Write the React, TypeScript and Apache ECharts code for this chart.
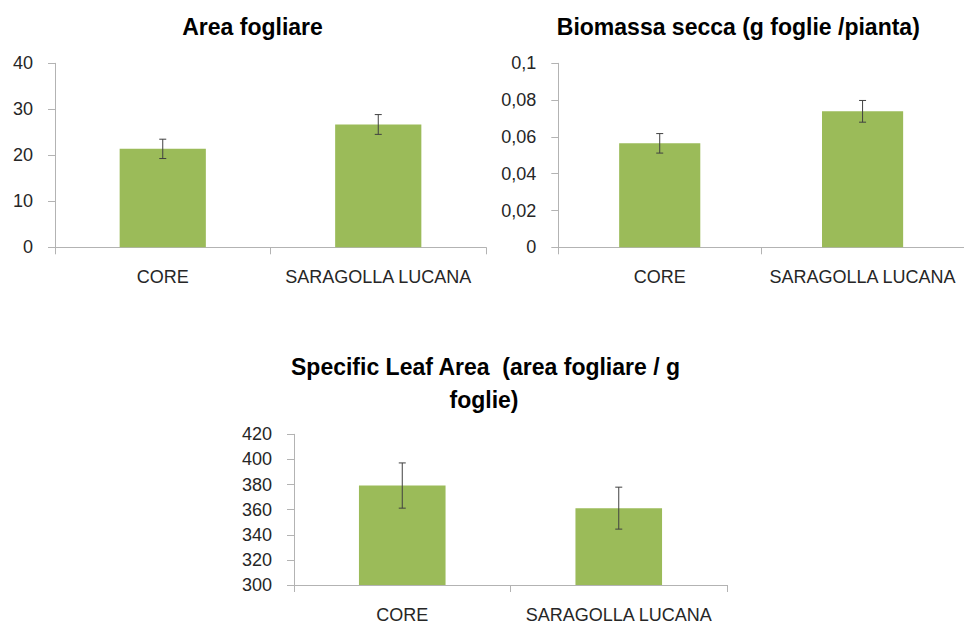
import React, { useEffect, useRef } from "react";
import * as echarts from "echarts";

const categories = ["CORE", "SARAGOLLA LUCANA"];

const areaValues = [21.4, 26.7];
const areaErrors = [2.1, 2.15];
const areaAxis = { min: 0, max: 40, interval: 10 };

const biomassValues = [0.0565, 0.0739];
const biomassErrors = [0.0053, 0.0059];
const biomassAxis = { min: 0, max: 0.1, interval: 0.02 };

const slaValues = [379.2, 361.2];
const slaErrors = [18, 16.7];
const slaAxis = { min: 300, max: 420, interval: 20 };

const titles = [
  "Area fogliare",
  "Biomassa secca (g foglie /pianta)",
  "Specific Leaf Area  (area fogliare / g",
  "foglie)",
];

const FONT = "'Liberation Sans', Arial, sans-serif";
const BAR_COLOR = "#9BBB59";
const AXIS_COLOR = "#b3b3b3";
const LABEL_COLOR = "#262626";
const ERR_COLOR = "#404040";

const errData = (vals: number[], errs: number[]) =>
  vals.map((v, i) => [i, v - errs[i], v + errs[i]]);

const renderErr = (_params: any, api: any) => {
  const x = api.value(0);
  const lo = api.coord([x, api.value(1)]);
  const hi = api.coord([x, api.value(2)]);
  const hw = 3.5;
  const style = { stroke: ERR_COLOR, lineWidth: 1, fill: "none" };
  return {
    type: "group",
    children: [
      { type: "line", shape: { x1: hi[0], y1: hi[1], x2: lo[0], y2: lo[1] }, style },
      { type: "line", shape: { x1: hi[0] - hw, y1: hi[1], x2: hi[0] + hw, y2: hi[1] }, style },
      { type: "line", shape: { x1: lo[0] - hw, y1: lo[1], x2: lo[0] + hw, y2: lo[1] }, style },
    ],
  };
};

const fmtComma = (v: number) =>
  v === 0 ? "0" : String(+v.toFixed(4)).replace(".", ",");

const makeX = (gridIndex: number) => ({
  type: "category",
  gridIndex,
  data: categories,
  boundaryGap: true,
  axisLine: { show: true, lineStyle: { color: AXIS_COLOR, width: 1 } },
  axisTick: { show: true, alignWithLabel: false, interval: 0, length: 7, lineStyle: { color: AXIS_COLOR } },
  axisLabel: {
    color: LABEL_COLOR,
    fontSize: 18,
    fontFamily: FONT,
    margin: 21,
    interval: 0,
    hideOverlap: false,
  },
  splitLine: { show: false },
});

const makeY = (gridIndex: number, ax: { min: number; max: number; interval: number }, formatter?: any) => ({
  type: "value",
  gridIndex,
  min: ax.min,
  max: ax.max,
  interval: ax.interval,
  axisLine: { show: true, lineStyle: { color: AXIS_COLOR, width: 1 } },
  axisTick: { show: true, length: 7, lineStyle: { color: AXIS_COLOR } },
  axisLabel: { color: LABEL_COLOR, fontSize: 18, fontFamily: FONT, margin: 22, formatter },
  splitLine: { show: false },
});

const titleText = (text: string, x: number, y: number) => ({
  type: "text",
  x,
  y,
  style: {
    text,
    fill: "#000",
    font: `bold 23px ${FONT}`,
    textAlign: "center",
    textVerticalAlign: "middle",
  },
});

export default function App() {
  const ref = useRef<HTMLDivElement>(null);

  useEffect(() => {
    if (!ref.current) return;
    const chart = echarts.init(ref.current, undefined, { renderer: "svg" });
    const barSeries = (i: number, data: number[]) => ({
      type: "bar",
      xAxisIndex: i,
      yAxisIndex: i,
      data,
      barWidth: "40%",
      itemStyle: { color: BAR_COLOR },
      z: 2,
    });
    const errSeries = (i: number, vals: number[], errs: number[]) => ({
      type: "custom",
      xAxisIndex: i,
      yAxisIndex: i,
      data: errData(vals, errs),
      encode: { x: 0, y: [1, 2] },
      renderItem: renderErr,
      z: 3,
    });
    chart.setOption({
      animation: false,
      backgroundColor: "#ffffff",
      grid: [
        { left: 55, top: 63.3, width: 431, height: 184 },
        { left: 558.3, top: 63.3, width: 417, height: 184 },
        { left: 294, top: 434.3, width: 433, height: 151 },
      ],
      xAxis: [makeX(0), makeX(1), makeX(2)],
      yAxis: [
        makeY(0, areaAxis),
        makeY(1, biomassAxis, fmtComma),
        makeY(2, slaAxis),
      ],
      series: [
        barSeries(0, areaValues),
        errSeries(0, areaValues, areaErrors),
        barSeries(1, biomassValues),
        errSeries(1, biomassValues, biomassErrors),
        barSeries(2, slaValues),
        errSeries(2, slaValues, slaErrors),
      ],
      graphic: [
        titleText(titles[0], 252.5, 26.5),
        titleText(titles[1], 738.3, 26.5),
        titleText(titles[2], 485.5, 366.5),
        titleText(titles[3], 484, 400),
      ],
    });
    return () => chart.dispose();
  }, []);

  return (
    <div
      ref={ref}
      style={{ position: "absolute", left: 0, top: 0, width: 964, height: 624, background: "#fff" }}
    />
  );
}
